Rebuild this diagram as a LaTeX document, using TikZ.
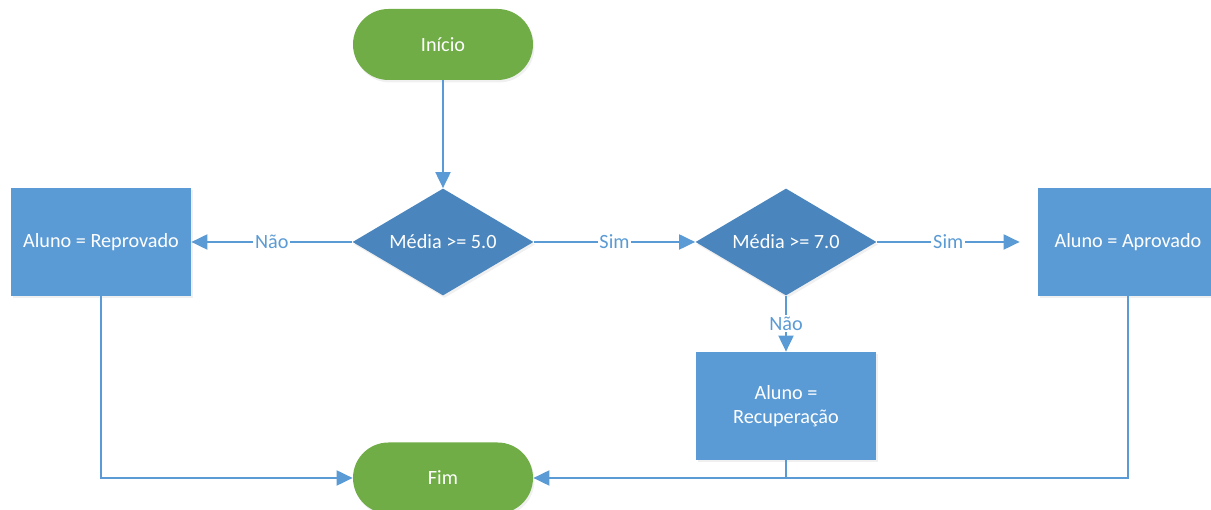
\documentclass[tikz,border=0pt]{standalone}
\usepackage{fontspec}
\setmainfont{Carlito}
\usepackage{tikz}
\usetikzlibrary{
    shapes.geometric, arrows.meta, positioning, calc, shadows
}
\definecolor{termGreen}{HTML}{70AD47}
\definecolor{boxBlue}{HTML}{5B9BD5}
\definecolor{decBlue}{HTML}{4A85BD}
\definecolor{lineBlue}{HTML}{5B9BD5}
\tikzset{
    % Shapes
    termNode/.style={
        rectangle, rounded corners=0.71cm, fill=termGreen, draw=none, text=white,
        minimum width=3.6cm, minimum height=1.42cm, font=\fontsize{11.5}{14}\selectfont,
        drop shadow={opacity=0.12, shadow xshift=0.03cm, shadow yshift=-0.05cm}
    },
    decNode/.style={
        diamond, shape aspect=1.7, fill=decBlue, draw=none, text=white, inner sep=0pt,
        minimum width=3.62cm, minimum height=2.14cm, font=\fontsize{11.5}{14}\selectfont,
        drop shadow={opacity=0.12, shadow xshift=0.03cm, shadow yshift=-0.05cm}
    },
    procNode/.style={
        rectangle, fill=boxBlue, draw=none, text=white, align=center,
        minimum width=3.6cm, minimum height=2.16cm, font=\fontsize{11.5}{14}\selectfont,
        drop shadow={opacity=0.12, shadow xshift=0.03cm, shadow yshift=-0.05cm}
    },
    % Connectors
    flowLine/.style={draw=lineBlue, line width=1.1pt},
    flowArrow/.style={flowLine, -{Triangle[length=3.2mm, width=3mm]}},
    edgeLabel/.style={fill=white, text=lineBlue, inner sep=1pt, font=\fontsize{11.5}{14}\selectfont}
}
\begin{document}
\begin{tikzpicture}
    \useasboundingbox (0,0) rectangle (24.22,10.2);

    % Nodes
    \node[termNode] (inicio) at (8.86, 9.31) {Início};
    \node[decNode] (media5) at (8.86, 5.36) {Média >= 5.0};
    \node[decNode] (media7) at (15.72, 5.36) {Média >= 7.0};
    \node[procNode] (reprov) at (2.02, 5.36) {Aluno = Reprovado};
    \node[procNode] (aprov) at (22.56, 5.36) {Aluno = Aprovado};
    \node[procNode] (recup) at (15.72, 2.08) {Aluno =\\Recuperação};
    \node[termNode] (fim) at (8.86, 0.64) {Fim};

    % Free end of the right arrow
    \coordinate (aprovIn) at ([xshift=-0.36cm]aprov.west);

    % Connectors
    \draw[flowArrow] (inicio) -- (media5);
    \draw[flowArrow] (media5) -- node[edgeLabel] {Não} (reprov);
    \draw[flowArrow] (media5) -- node[edgeLabel] {Sim} (media7);
    \draw[flowArrow] (media7.east) -- node[edgeLabel] {Sim} (aprovIn);
    \draw[flowArrow] (media7) -- node[edgeLabel] {Não} (recup);

    % Paths to the end
    \draw[flowArrow] (reprov.south) |- (fim.west);
    \draw[flowArrow] (aprov.south) |- (fim.east);
    \draw[flowLine] (recup.south) -- (recup.south |- fim.east);
\end{tikzpicture}
\end{document}
